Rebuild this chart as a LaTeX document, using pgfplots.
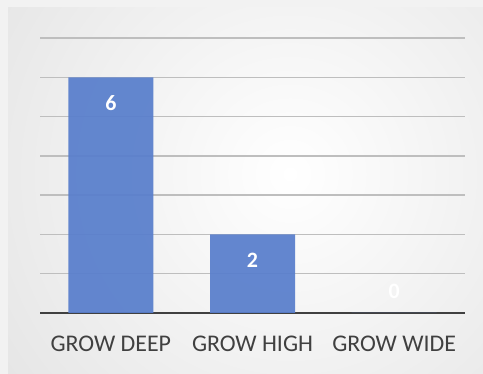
\documentclass[border=0pt]{standalone}
\usepackage{pgfplots}
\pgfplotsset{compat=1.18}
\usepackage{fontspec}
\setmainfont{Carlito}
\definecolor{barblue}{RGB}{88,126,204}
\definecolor{txt}{RGB}{64,64,64}
\definecolor{gridc}{RGB}{190,190,190}
\definecolor{edgec}{RGB}{200,200,200}
\begin{document}
\begin{tikzpicture}
\useasboundingbox (0bp,0bp) rectangle (483bp,374bp);
\fill[white!95!black] (0bp,0bp) rectangle (483bp,374bp);
\begin{scope}
\clip (8bp,0bp) rectangle (483bp,366bp);
\shade[inner color=white, outer color=edgec] (290bp,200bp) circle (760bp);
\end{scope}
\begin{axis}[at={(40bp,61bp)}, anchor=south west, scale only axis,
  width=425bp, height=275bp,
  xmin=-0.5, xmax=2.5, ymin=0, ymax=7,
  ytick={0,1,...,7}, yticklabels={},
  ymajorgrids, grid style={gridc, line width=1.3bp},
  major tick length=0pt, tick style={draw=none},
  xtick={0,1,2}, xticklabels={GROW DEEP, GROW HIGH, GROW WIDE},
  axis x line*=bottom, axis y line*=left,
  y axis line style={draw=none},
  x axis line style={txt, line width=2.6bp, -},
  xticklabel style={font=\fontsize{24}{28}\selectfont, text=txt, yshift=-19bp},
  /pgf/number format/assume math mode=true,
  clip=false,
]
\addplot[ybar, bar width=0.6, fill=barblue, fill opacity=0.93, draw=none,
  nodes near coords,
  every node near coord/.append style={anchor=north, yshift=-15bp, text=white, text opacity=1, font=\fontsize{22}{26}\selectfont\bfseries}]
  coordinates {(0,6) (1,2)};
\addplot[ybar, bar width=0.6, fill=barblue, draw=none,
  nodes near coords,
  every node near coord/.append style={anchor=south, yshift=11bp, text=white, font=\fontsize{22}{26}\selectfont\bfseries}]
  coordinates {(2,0)};
\end{axis}
\end{tikzpicture}
\end{document}
